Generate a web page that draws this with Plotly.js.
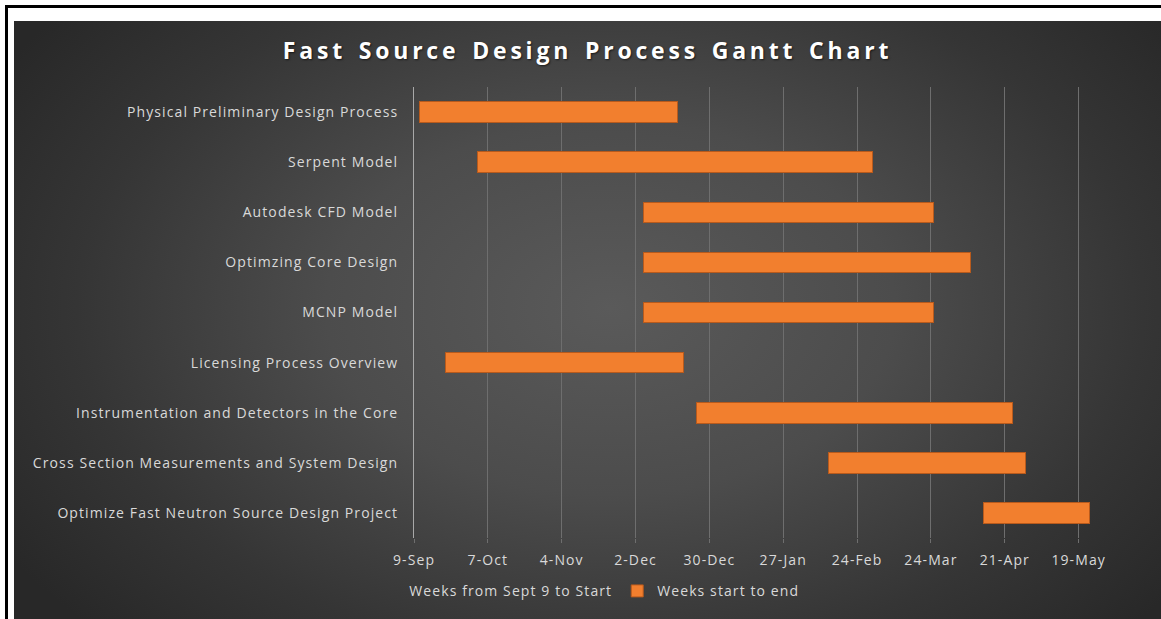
<!DOCTYPE html>
<html>
<head>
<meta charset="utf-8">
<script src="https://cdn.plot.ly/plotly-3.0.1.min.js"></script>
<style>
  html, body { margin: 0; padding: 0; background: #ffffff; width: 1161px; height: 619px; overflow: hidden; }
  #frame { position: absolute; left: 5px; top: 5px; width: 1156px; height: 614px;
           border-left: 3px solid #000; border-top: 3px solid #000; box-sizing: border-box; background: #fff; }
  #chart { position: absolute; left: 14px; top: 21px; width: 1147px; height: 598px;
           background: radial-gradient(ellipse 62% 78% at 52% 48%, #5a5a5a 0%, #4c4c4c 40%, #353535 75%, #282828 100%); }
  .gtitle { letter-spacing: 3.8px; word-spacing: 3px; }
  .xtick text, .ytick text, .legendtext { letter-spacing: 1.1px; }
</style>
</head>
<body>
<div id="frame"></div>
<div id="chart"></div>
<script>
// Tasks (top to bottom)
const tasks = [
  "Physical Preliminary Design Process",
  "Serpent Model",
  "Autodesk CFD Model",
  "Optimzing Core Design",
  "MCNP Model",
  "Licensing Process Overview",
  "Instrumentation and Detectors in the Core",
  "Cross Section Measurements and System Design",
  "Optimize Fast Neutron Source Design Project"
];
// Days from Sept 9 to start
const startDays = [2, 24, 87, 87, 87, 12, 107, 157, 216];
// Duration in days (start to end)
const durationDays = [98, 150, 110, 124, 110, 90, 120, 75, 40];
// Axis ticks (days from Sept 9) and labels
const tickDays = [0, 28, 56, 84, 112, 140, 168, 196, 224, 252];
const tickLabels = ["9-Sep", "7-Oct", "4-Nov", "2-Dec", "30-Dec", "27-Jan", "24-Feb", "24-Mar", "21-Apr", "19-May"];
const seriesNames = ["Weeks from Sept 9 to Start", "Weeks start to end"];

const labelFont = { family: "Open Sans, sans-serif", size: 14, color: "#d9d9d9" };

const traces = [
  {
    type: "bar", orientation: "h", name: seriesNames[0],
    y: tasks, x: startDays,
    marker: { color: "rgba(0,0,0,0)", line: { width: 0 } },
    hoverinfo: "skip"
  },
  {
    type: "bar", orientation: "h", name: seriesNames[1],
    y: tasks, x: durationDays,
    marker: { color: "#f27f2e", line: { color: "#b85a1c", width: 1 } }
  }
];

const layout = {
  width: 1147, height: 598,
  paper_bgcolor: "rgba(0,0,0,0)",
  plot_bgcolor: "rgba(0,0,0,0)",
  margin: { l: 400, r: 56, t: 66, b: 75 },
  barmode: "stack",
  bargap: 0.59,
  title: {
    text: "Fast Source Design Process Gantt Chart",
    x: 0.5, xanchor: "center",
    y: 1 - 30 / 598, yanchor: "middle",
    font: { family: "Open Sans, sans-serif", size: 23, weight: "bold", color: "#ffffff",
            shadow: "1px 1px 2px rgba(0,0,0,0.6)" }
  },
  xaxis: {
    range: [0, 262],
    tickmode: "array", tickvals: tickDays, ticktext: tickLabels,
    showgrid: true, gridcolor: "#6e6e6e", gridwidth: 1,
    zeroline: false, showline: false,
    ticks: "outside", ticklen: 4, tickcolor: "#6e6e6e",
    tickfont: labelFont, ticklabelstandoff: 5
  },
  yaxis: {
    type: "category",
    autorange: "reversed",
    showgrid: false, zeroline: false,
    showline: true, linecolor: "#a8a8a8", linewidth: 1,
    ticks: "", tickfont: labelFont, ticklabelstandoff: 12
  },
  showlegend: true,
  legend: {
    orientation: "h", x: 0.25, xanchor: "center",
    y: -54 / 457, yanchor: "middle",
    font: { family: "Open Sans, sans-serif", size: 14, color: "#d9d9d9" },
    bgcolor: "rgba(0,0,0,0)", traceorder: "normal"
  },
  hovermode: false
};

Plotly.newPlot("chart", traces, layout, { displayModeBar: false, staticPlot: true });
</script>
</body>
</html>
